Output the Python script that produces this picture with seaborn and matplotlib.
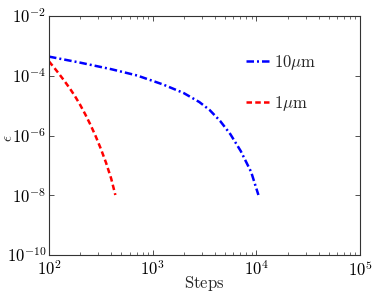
import numpy as np
import pandas as pd
import matplotlib
matplotlib.use("Agg")
import matplotlib.pyplot as plt
import seaborn as sns

# data
steps_10um = [100, 199.5, 398.1, 707.9, 1259, 1995, 2818, 3548, 4467, 5623, 7079, 8913, 10471]
eps_10um = [4.37e-4, 2.75e-4, 1.66e-4, 1.02e-4, 5.1e-5, 2.63e-5, 1.32e-5, 7.1e-6,
            3.09e-6, 1.10e-6, 3.0e-7, 6.0e-8, 1.02e-8]
steps_1um = [100, 112.2, 125.9, 141.3, 158.5, 177.8, 199.5, 223.9, 251.2, 281.8,
             316.2, 354.8, 398.1, 436.5]
eps_1um = [3.02e-4, 1.86e-4, 1.12e-4, 6.6e-5, 3.8e-5, 2.09e-5, 1.07e-5, 5.1e-6,
           2.29e-6, 9.5e-7, 3.6e-7, 1.23e-7, 3.6e-8, 1.02e-8]
labels = [r"$10\mu\mathrm{m}$", r"$1\mu\mathrm{m}$"]
xticks = [1e2, 1e3, 1e4, 1e5]
yticks = [1e-10, 1e-8, 1e-6, 1e-4, 1e-2]

sns.set_style("ticks")
plt.rcParams["mathtext.fontset"] = "cm"
plt.rcParams["font.family"] = ["DejaVu Serif"]

df = pd.concat([
    pd.DataFrame({"Steps": steps_10um, "eps": eps_10um, "series": labels[0]}),
    pd.DataFrame({"Steps": steps_1um, "eps": eps_1um, "series": labels[1]}),
])

fig = plt.figure(figsize=(3.74, 2.96), dpi=100)
ax = fig.add_axes([49/374, 41/296, 311/374, 239/296])

palette = {labels[0]: "#0000ff", labels[1]: "#ff0000"}
for lab, ls in zip(labels, [(0, (3.0, 1.2, 0.8, 1.2)), (0, (2.2, 1.3))]):
    sub = df[df["series"] == lab]
    sns.lineplot(data=sub, x="Steps", y="eps", ax=ax, color=palette[lab],
                 linewidth=1.8, label=lab, sort=False, estimator=None)
    ax.lines[-1].set_linestyle(ls)

ax.set_xscale("log")
ax.set_yscale("log")
ax.set_xlim(1e2, 1e5)
ax.set_ylim(1e-10, 1e-2)
ax.set_xticks(xticks)
ax.set_xticklabels([r"$10^{%d}$" % int(np.log10(v)) for v in xticks])
ax.set_yticks(yticks)
ax.set_yticklabels([r"$10^{%d}$" % int(np.log10(v)) for v in yticks])
ax.yaxis.set_minor_locator(matplotlib.ticker.NullLocator())
ax.tick_params(axis="both", which="both", direction="in", top=True, right=True,
               labelsize=12, colors="#333333", labelcolor="black")
ax.tick_params(which="major", length=3.5, width=0.6)
ax.tick_params(which="minor", length=2, width=0.5)
ax.tick_params(axis="x", pad=4)
ax.tick_params(axis="y", pad=2)
for s in ax.spines.values():
    s.set_color("#333333")
    s.set_linewidth(0.8)

ax.set_xlabel(r"$\mathrm{Steps}$", fontsize=12, labelpad=-4)
ax.set_ylabel(r"$\epsilon$", fontsize=11, va="center", ha="center")
ax.yaxis.set_label_coords(-0.132, 0.49)

leg = ax.legend(loc="upper left", bbox_to_anchor=(0.606, 0.88), frameon=False,
                fontsize=12, handlelength=1.6, handletextpad=0.1,
                labelspacing=1.3, borderpad=0)

fig.savefig("out.png", dpi=100)
